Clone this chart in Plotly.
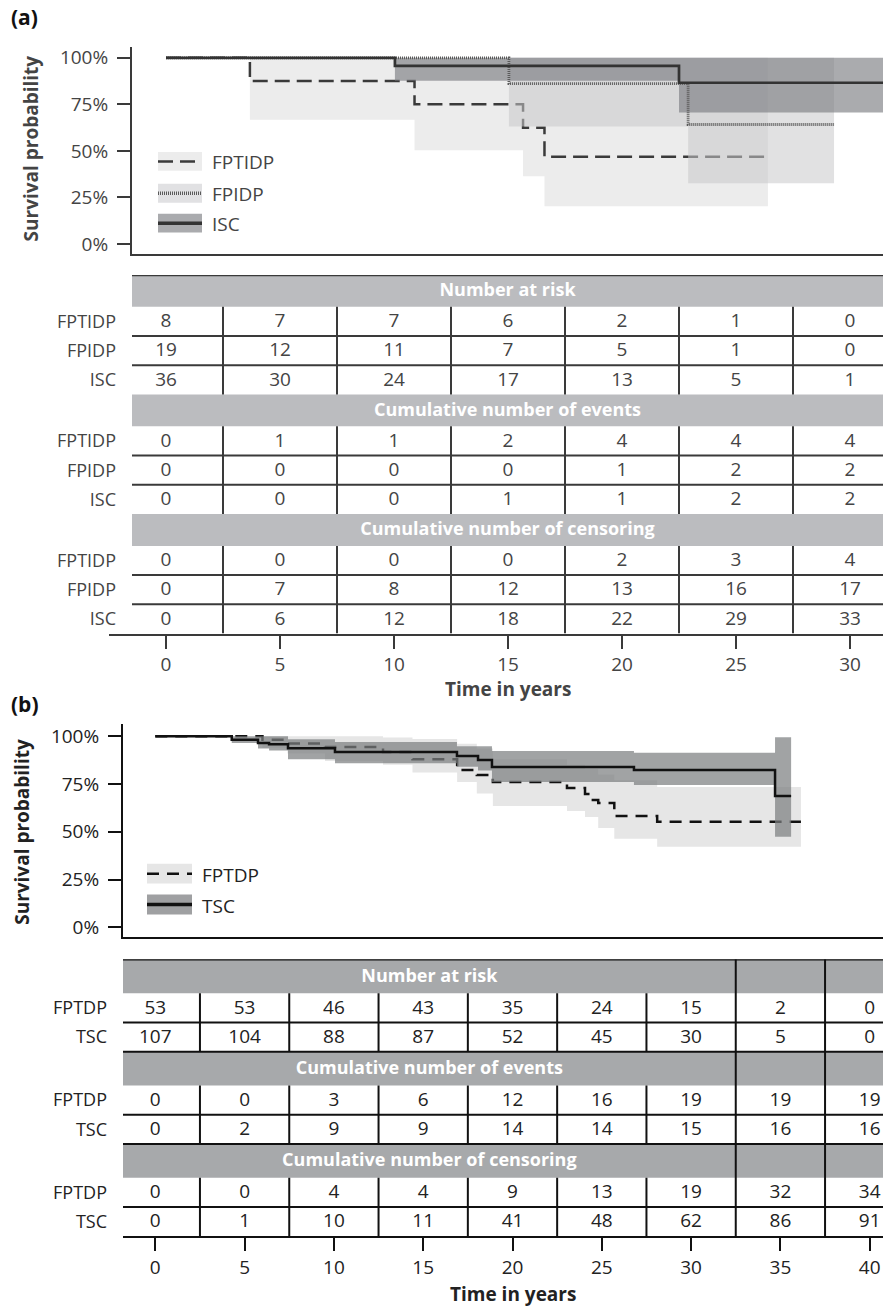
import plotly.graph_objects as go

W, H = 883, 1310
FONT = "Open Sans"

# ======================= DATA =======================
# ---- Panel (a): Kaplan-Meier estimates (years, survival fraction) ----
a_fptidp_time = [0, 3.68, 10.9, 15.66, 16.6, 26.4]
a_fptidp_surv = [1.0, 0.875, 0.75, 0.625, 0.469, 0.469]
a_fptidp_ci_time = [3.68, 10.9, 15.66, 16.6, 26.4]
a_fptidp_ci_low = [0.668, 0.503, 0.364, 0.203, 0.203]
a_fptidp_ci_up = [1.0, 1.0, 1.0, 1.0, 1.0]

a_fpidp_time = [0, 15.04, 22.9, 29.3]
a_fpidp_surv = [1.0, 0.861, 0.642, 0.642]
a_fpidp_ci_time = [15.04, 22.9, 29.3]
a_fpidp_ci_low = [0.631, 0.326, 0.326]
a_fpidp_ci_up = [1.0, 1.0, 1.0]

a_isc_time = [0, 10.04, 22.5, 32.0]
a_isc_surv = [1.0, 0.957, 0.866, 0.866]
a_isc_ci_time = [10.04, 22.5, 32.0]
a_isc_ci_low = [0.877, 0.706, 0.706]
a_isc_ci_up = [1.0, 1.0, 1.0]

# ---- Panel (a): table ----
a_times = [0, 5, 10, 15, 20, 25, 30]
a_groups = ["FPTIDP", "FPIDP", "ISC"]
a_risk_fptidp = [8, 7, 7, 6, 2, 1, 0]
a_risk_fpidp = [19, 12, 11, 7, 5, 1, 0]
a_risk_isc = [36, 30, 24, 17, 13, 5, 1]
a_events_fptidp = [0, 1, 1, 2, 4, 4, 4]
a_events_fpidp = [0, 0, 0, 0, 1, 2, 2]
a_events_isc = [0, 0, 0, 1, 1, 2, 2]
a_cens_fptidp = [0, 0, 0, 0, 2, 3, 4]
a_cens_fpidp = [0, 7, 8, 12, 13, 16, 17]
a_cens_isc = [0, 6, 12, 18, 22, 29, 33]

# ---- Panel (b): Kaplan-Meier estimates ----
b_fptdp_time = [0, 6.0, 7.4, 9.5, 12.75, 14.4, 16.9, 18.0, 18.9, 23.05, 24.06, 24.4, 24.8, 25.7, 28.1, 36.15]
b_fptdp_surv = [1.0, 0.981, 0.962, 0.943, 0.917, 0.88, 0.823, 0.797, 0.76, 0.729, 0.698, 0.667, 0.651, 0.583, 0.552, 0.552]
b_fptdp_ci_time = [6.0, 7.4, 9.5, 12.75, 14.4, 16.9, 18.0, 18.9, 23.05, 24.06, 24.8, 25.7, 28.1, 36.15]
b_fptdp_ci_low = [0.94, 0.91, 0.87, 0.85, 0.81, 0.76, 0.70, 0.635, 0.609, 0.578, 0.52, 0.464, 0.422, 0.422]
b_fptdp_ci_up = [1.0, 1.0, 1.0, 0.993, 0.985, 0.96, 0.935, 0.88, 0.85, 0.83, 0.80, 0.77, 0.734, 0.734]

b_tsc_time = [0, 4.28, 5.75, 6.37, 7.43, 10.06, 16.89, 18.07, 18.85, 26.8, 34.7, 35.6]
b_tsc_surv = [1.0, 0.981, 0.965, 0.958, 0.9375, 0.917, 0.896, 0.875, 0.839, 0.823, 0.6875, 0.6875]
b_tsc_ci_time = [4.28, 5.75, 6.37, 7.43, 10.06, 16.89, 18.07, 18.85, 26.8, 34.7, 35.6]
b_tsc_ci_low = [0.965, 0.935, 0.925, 0.88, 0.859, 0.84, 0.82, 0.76, 0.745, 0.474, 0.474]
b_tsc_ci_up = [1.0, 1.0, 1.0, 0.984, 0.969, 0.948, 0.948, 0.922, 0.914, 0.995, 0.995]

# ---- Panel (b): table ----
b_times = [0, 5, 10, 15, 20, 25, 30, 35, 40]
b_groups = ["FPTDP", "TSC"]
b_risk_fptdp = [53, 53, 46, 43, 35, 24, 15, 2, 0]
b_risk_tsc = [107, 104, 88, 87, 52, 45, 30, 5, 0]
b_events_fptdp = [0, 0, 3, 6, 12, 16, 19, 19, 19]
b_events_tsc = [0, 2, 9, 9, 14, 14, 15, 16, 16]
b_cens_fptdp = [0, 0, 4, 4, 9, 13, 19, 32, 34]
b_cens_tsc = [0, 1, 10, 11, 41, 48, 62, 86, 91]

y_tickvals = [0, 0.25, 0.5, 0.75, 1.0]
y_ticktext = ["0%", "25%", "50%", "75%", "100%"]
header_titles = ["Number at risk", "Cumulative number of events", "Cumulative number of censoring"]

# ======================= LAYOUT GEOMETRY =======================
A_ZERO, A_PPY = 166.0, 22.8      # px of t=0, px per year (panel a)
B_ZERO, B_PPY = 155.3, 17.86     # panel b


def ax_a(px):
    return (px - A_ZERO) / A_PPY


def ax_b(px):
    return (px - B_ZERO) / B_PPY


def pxx(px):
    return px / W


def pxy(py):
    return 1 - py / H


fig = go.Figure()


def band(t, lo, up, color, xa, ya):
    fig.add_trace(go.Scatter(x=t, y=up, mode="lines", line=dict(width=0, shape="hv"),
                             hoverinfo="skip", showlegend=False, xaxis=xa, yaxis=ya))
    fig.add_trace(go.Scatter(x=t, y=lo, mode="lines", line=dict(width=0, shape="hv"),
                             fill="tonexty", fillcolor=color, hoverinfo="skip",
                             showlegend=False, xaxis=xa, yaxis=ya))


def curve(t, s, color, width, dash, xa, ya):
    fig.add_trace(go.Scatter(x=t, y=s, mode="lines",
                             line=dict(color=color, width=width, dash=dash, shape="hv"),
                             showlegend=False, xaxis=xa, yaxis=ya))


# colours
A_LINE = "#3a3a3a"
A_TXT = "#444444"
B_LINE = "#111111"
B_TXT = "#222222"
A_FPTIDP_FILL = "#ececec"
A_FPIDP_FILL = "rgba(200,200,203,0.55)"
A_ISC_FILL = "rgba(125,126,130,0.65)"
B_FPTDP_FILL = "#e6e6e6"
B_TSC_FILL = "rgba(125,127,129,0.72)"

NUM_SIZE = 19
LBL_SIZE = 18
BOLD_SIZE = 19

# ---- panel (a) curves ----
band(a_fptidp_ci_time, a_fptidp_ci_low, a_fptidp_ci_up, A_FPTIDP_FILL, "x", "y")
curve(a_fptidp_time, a_fptidp_surv, A_LINE, 2.5, "15px,7px", "x", "y")
band(a_fpidp_ci_time, a_fpidp_ci_low, a_fpidp_ci_up, A_FPIDP_FILL, "x", "y")
band(a_isc_ci_time, a_isc_ci_low, a_isc_ci_up, A_ISC_FILL, "x", "y")
curve(a_fpidp_time, a_fpidp_surv, "#5a5a5a", 2.8, "1px,1px", "x", "y")
curve(a_isc_time, a_isc_surv, "#333333", 2.7, "solid", "x", "y")

# ---- panel (b) curves ----
band(b_fptdp_ci_time, b_fptdp_ci_low, b_fptdp_ci_up, B_FPTDP_FILL, "x3", "y3")
curve(b_fptdp_time, b_fptdp_surv, B_LINE, 2.5, "12px,8px", "x3", "y3")
band(b_tsc_ci_time, b_tsc_ci_low, b_tsc_ci_up, B_TSC_FILL, "x3", "y3")
curve(b_tsc_time, b_tsc_surv, B_LINE, 2.5, "solid", "x3", "y3")

shapes = []
annotations = []


def build_table(blocks, groups, times, xa, ya, x_left, x_right, hdr_h, row_h,
                hdr_color, line_color, txt_color, hdr_right, full_seps, block_bottom_lines):
    tickvals, ticktext = [], []
    y = 0.0
    shapes.append(dict(type="line", xref=xa, yref=ya, x0=x_left, x1=x_right, y0=0, y1=0,
                       line=dict(color=line_color, width=2.5), layer="above"))
    seps = [t + 2.5 for t in times[:-1]]
    for bi, (title, rows) in enumerate(blocks):
        shapes.append(dict(type="rect", xref=xa, yref=ya, x0=x_left, x1=x_right,
                           y0=y, y1=y + hdr_h, fillcolor=hdr_color, line=dict(width=0),
                           layer="below"))
        fig.add_trace(go.Scatter(x=[(x_left + hdr_right) / 2], y=[y + hdr_h / 2 + 1], mode="text",
                                 text=["<b>%s</b>" % title],
                                 textfont=dict(family=FONT, size=BOLD_SIZE - 1, color="white"),
                                 showlegend=False, hoverinfo="skip", cliponaxis=False,
                                 xaxis=xa, yaxis=ya))
        top_rows = y + hdr_h
        n = len(rows)
        for ri, vals in enumerate(rows):
            cy = top_rows + ri * row_h + row_h / 2
            tickvals.append(cy)
            ticktext.append(groups[ri])
            fig.add_trace(go.Scatter(x=times, y=[cy + 1] * len(times), mode="text",
                                     text=[str(v) for v in vals],
                                     textfont=dict(family=FONT, size=NUM_SIZE, color=txt_color),
                                     showlegend=False, hoverinfo="skip", cliponaxis=False,
                                     xaxis=xa, yaxis=ya))
            if ri < n - 1 or block_bottom_lines:
                if not (bi == len(blocks) - 1 and ri == n - 1):
                    yy = top_rows + (ri + 1) * row_h
                    shapes.append(dict(type="line", xref=xa, yref=ya, x0=x_left, x1=x_right,
                                       y0=yy, y1=yy, line=dict(color=line_color, width=2)))
        bottom = top_rows + n * row_h
        for s in seps:
            if s in full_seps:
                continue
            shapes.append(dict(type="line", xref=xa, yref=ya, x0=s, x1=s, y0=top_rows, y1=bottom,
                               line=dict(color=line_color, width=2)))
        y = bottom
    for s in full_seps:
        shapes.append(dict(type="line", xref=xa, yref=ya, x0=s, x1=s, y0=0, y1=y,
                           line=dict(color=line_color, width=2)))
    return tickvals, ticktext, y


A_HDR, A_ROW = 32.0, 29.33
a_blocks = [
    (header_titles[0], [a_risk_fptidp, a_risk_fpidp, a_risk_isc]),
    (header_titles[1], [a_events_fptidp, a_events_fpidp, a_events_isc]),
    (header_titles[2], [a_cens_fptidp, a_cens_fpidp, a_cens_isc]),
]
a_tv, a_tt, a_total = build_table(a_blocks, a_groups, a_times, "x2", "y2",
                                  ax_a(132), ax_a(W), A_HDR, A_ROW,
                                  "#bbbcbf", A_LINE, A_TXT, ax_a(W), [], False)

B_HDR, B_ROW = 34.0, 29.33
b_blocks = [
    (header_titles[0], [b_risk_fptdp, b_risk_tsc]),
    (header_titles[1], [b_events_fptdp, b_events_tsc]),
    (header_titles[2], [b_cens_fptdp, b_cens_tsc]),
]
b_tv, b_tt, b_total = build_table(b_blocks, b_groups, b_times, "x4", "y4",
                                  ax_b(123), ax_b(W), B_HDR, B_ROW,
                                  "#a7a9ab", B_LINE, B_TXT, 32.5, [32.5, 37.5], True)


# ---- legends (drawn as layout shapes + labels) ----
def legend_item(x0, x1, cy, h, fill, lcolor, lwidth, ldash, label, txtcolor):
    shapes.append(dict(type="rect", xref="paper", yref="paper", x0=pxx(x0), x1=pxx(x1),
                       y0=pxy(cy + h / 2), y1=pxy(cy - h / 2), fillcolor=fill, line=dict(width=0)))
    shapes.append(dict(type="line", xref="paper", yref="paper", x0=pxx(x0), x1=pxx(x1),
                       y0=pxy(cy), y1=pxy(cy), line=dict(color=lcolor, width=lwidth, dash=ldash)))
    annotations.append(dict(xref="paper", yref="paper", x=pxx(x1 + 8), y=pxy(cy + 1), text=label,
                            showarrow=False, xanchor="left", yanchor="middle",
                            font=dict(family=FONT, size=LBL_SIZE + 1, color=txtcolor)))


legend_item(158, 202, 160, 19, "#ececec", A_LINE, 2.5, "15px,7px", "FPTIDP", A_TXT)
legend_item(158, 202, 192, 19, "#e1e1e3", "#5a5a5a", 3.5, "1px,1px", "FPIDP", A_TXT)
legend_item(158, 202, 222, 19, "#aaabae", "#333333", 3.5, "solid", "ISC", A_TXT)
legend_item(147, 192, 875, 20, "#e6e6e6", B_LINE, 2.5, "12px,8px", "FPTDP", B_TXT)
legend_item(147, 192, 906, 20, "#9fa0a2", B_LINE, 3.5, "solid", "TSC", B_TXT)

# ---- titles ----
annotations += [
    dict(xref="paper", yref="paper", x=pxx(9), y=pxy(15), text="<b>(a)</b>", showarrow=False,
         xanchor="left", yanchor="middle", font=dict(family=FONT, size=21, color="#111")),
    dict(xref="paper", yref="paper", x=pxx(9), y=pxy(705), text="<b>(b)</b>", showarrow=False,
         xanchor="left", yanchor="middle", font=dict(family=FONT, size=21, color="#111")),
    dict(xref="paper", yref="paper", x=pxx(31), y=pxy(147), text="<b>Survival probability</b>",
         showarrow=False, textangle=-90, xanchor="center", yanchor="middle",
         font=dict(family=FONT, size=BOLD_SIZE, color=A_TXT)),
    dict(xref="paper", yref="paper", x=pxx(22), y=pxy(833), text="<b>Survival probability</b>",
         showarrow=False, textangle=-90, xanchor="center", yanchor="middle",
         font=dict(family=FONT, size=BOLD_SIZE, color=B_TXT)),
    dict(xref="x2", yref="paper", x=15, y=pxy(690), text="<b>Time in years</b>", showarrow=False,
         xanchor="center", yanchor="middle", font=dict(family=FONT, size=BOLD_SIZE, color=A_TXT)),
    dict(xref="x4", yref="paper", x=20, y=pxy(1297), text="<b>Time in years</b>", showarrow=False,
         xanchor="center", yanchor="middle", font=dict(family=FONT, size=BOLD_SIZE, color=B_TXT)),
]

plot_y = dict(tickvals=y_tickvals, ticktext=y_ticktext, ticks="outside", ticklen=13, tickwidth=2,
              showline=True, linewidth=2, showgrid=False, zeroline=False, ticklabelstandoff=5)
plot_x = dict(showline=True, linewidth=2, showgrid=False, zeroline=False, showticklabels=False, ticks="")

fig.update_layout(
    width=W, height=H, margin=dict(l=0, r=0, t=0, b=0),
    paper_bgcolor="white", plot_bgcolor="white", showlegend=False,
    font=dict(family=FONT, size=18, color=A_TXT),
    xaxis=dict(domain=[pxx(132), 1], range=[ax_a(132), ax_a(W)], anchor="y",
               linecolor=A_LINE, **plot_x),
    yaxis=dict(domain=[pxy(253), pxy(45)], range=[(243 - 253) / 187, (243 - 45) / 187], anchor="x",
               linecolor=A_LINE, tickcolor=A_LINE, tickfont=dict(family=FONT, size=NUM_SIZE, color=A_TXT),
               **plot_y),
    xaxis2=dict(domain=[pxx(109), 1], range=[ax_a(109), ax_a(W)], anchor="y2",
                showline=True, linewidth=2, linecolor=A_LINE, showgrid=False, zeroline=False,
                ticks="outside", ticklen=13, tickwidth=2, tickcolor=A_LINE,
                tickvals=a_times, ticktext=[str(t) for t in a_times],
                tickfont=dict(family=FONT, size=NUM_SIZE, color=A_TXT)),
    yaxis2=dict(domain=[pxy(274 + a_total), pxy(274)], range=[a_total, 0], anchor="free",
                position=pxx(132), showgrid=False, zeroline=False, showline=False, ticks="",
                tickvals=a_tv, ticktext=a_tt, ticklabelstandoff=16,
                tickfont=dict(family=FONT, size=LBL_SIZE, color=A_TXT)),
    xaxis3=dict(domain=[pxx(123), 1], range=[ax_b(123), ax_b(W)], anchor="y3",
                linecolor=B_LINE, **plot_x),
    yaxis3=dict(domain=[pxy(939), pxy(725)], range=[(929 - 939) / 192, (929 - 725) / 192], anchor="x3",
                linecolor=B_LINE, tickcolor=B_LINE, tickfont=dict(family=FONT, size=NUM_SIZE, color=B_TXT),
                **plot_y),
    xaxis4=dict(domain=[pxx(123), 1], range=[ax_b(123), ax_b(W)], anchor="y4",
                showline=True, linewidth=2, linecolor=B_LINE, showgrid=False, zeroline=False,
                ticks="outside", ticklen=13, tickwidth=2, tickcolor=B_LINE,
                tickvals=b_times, ticktext=[str(t) for t in b_times],
                tickfont=dict(family=FONT, size=NUM_SIZE, color=B_TXT)),
    yaxis4=dict(domain=[pxy(961 + b_total), pxy(961)], range=[b_total, 0], anchor="free",
                position=pxx(123), showgrid=False, zeroline=False, showline=False, ticks="",
                tickvals=b_tv, ticktext=b_tt, ticklabelstandoff=16,
                tickfont=dict(family=FONT, size=LBL_SIZE, color=B_TXT)),
    shapes=shapes,
    annotations=annotations,
)

fig.write_html("out.html")
